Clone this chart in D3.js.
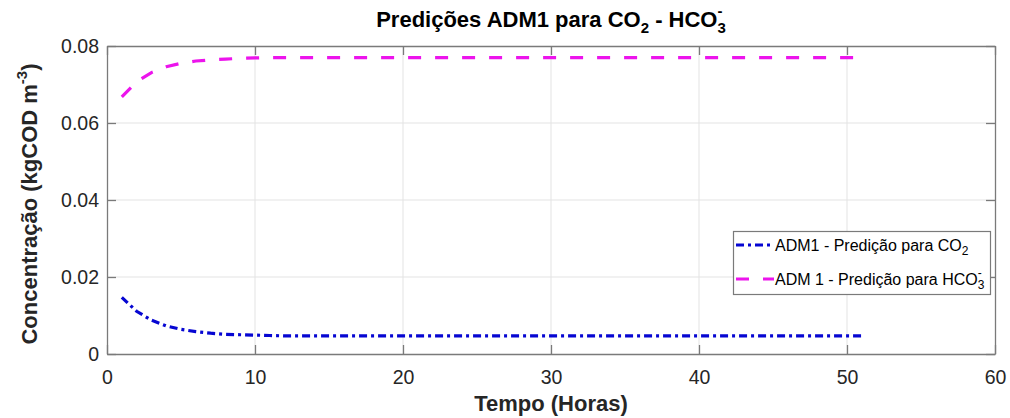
<!DOCTYPE html>
<html>
<head>
<meta charset="utf-8">
<script src="https://cdn.jsdelivr.net/npm/d3@7/dist/d3.min.js"></script>
<style>
  html, body { margin: 0; padding: 0; background: #fff; }
  svg { display: block; font-family: "Liberation Sans", Arial, sans-serif; }
</style>
</head>
<body>
<svg id="chart" width="1010" height="418"></svg>
<script>
// Simulated time (hours)
const hours = d3.range(1, 52);

// ADM1 prediction for CO2 (kgCOD m^-3)
const co2 = [
  0.0147, 0.0111, 0.0088, 0.0073, 0.0064, 0.0058, 0.0054, 0.0051, 0.0050, 0.0049,
  0.0048, 0.0047, 0.0047, 0.0047, 0.0047, 0.0047, 0.0047, 0.0047, 0.0047, 0.0047,
  0.0047, 0.0047, 0.0047, 0.0047, 0.0047, 0.0047, 0.0047, 0.0047, 0.0047, 0.0047,
  0.0047, 0.0047, 0.0047, 0.0047, 0.0047, 0.0047, 0.0047, 0.0047, 0.0047, 0.0047,
  0.0047, 0.0047, 0.0047, 0.0047, 0.0047, 0.0047, 0.0047, 0.0047, 0.0047, 0.0047,
  0.0047
];

// ADM1 prediction for HCO3- (kgCOD m^-3)
const hco3 = [
  0.0668, 0.0707, 0.0731, 0.0746, 0.0755, 0.0761, 0.0764, 0.0766, 0.0768, 0.0769,
  0.0770, 0.0770, 0.0770, 0.0770, 0.0770, 0.0770, 0.0770, 0.0770, 0.0770, 0.0770,
  0.0770, 0.0770, 0.0770, 0.0770, 0.0770, 0.0770, 0.0770, 0.0770, 0.0770, 0.0770,
  0.0770, 0.0770, 0.0770, 0.0770, 0.0770, 0.0770, 0.0770, 0.0770, 0.0770, 0.0770,
  0.0770, 0.0770, 0.0770, 0.0770, 0.0770, 0.0770, 0.0770, 0.0770, 0.0770, 0.0770,
  0.0770
];

const xTicks = [0, 10, 20, 30, 40, 50, 60];
const yTicks = [0, 0.02, 0.04, 0.06, 0.08];
const yTickLabels = ["0", "0.02", "0.04", "0.06", "0.08"];

const svg = d3.select("#chart");
const plotLeft = 107, plotRight = 995, plotTop = 46, plotBottom = 354;

const x = d3.scaleLinear().domain([0, 60]).range([plotLeft, plotRight]);
const y = d3.scaleLinear().domain([0, 0.08]).range([plotBottom, plotTop]);

const axisColor = "#7a7a7a";
const textColor = "#262626";

// grid
const grid = svg.append("g");
grid.selectAll(".gx").data(xTicks.slice(1, -1)).enter().append("line")
  .attr("x1", d => x(d)).attr("x2", d => x(d))
  .attr("y1", plotTop).attr("y2", plotBottom)
  .attr("stroke", "#e3e3e3").attr("stroke-width", 1);
grid.selectAll(".gy").data(yTicks.slice(1, -1)).enter().append("line")
  .attr("x1", plotLeft).attr("x2", plotRight)
  .attr("y1", d => y(d)).attr("y2", d => y(d))
  .attr("stroke", "#e3e3e3").attr("stroke-width", 1);

// axes (box with ticks on all sides)
const tickLen = 9;
const xAxisB = d3.axisBottom(x).tickValues(xTicks).tickSizeInner(-tickLen).tickSizeOuter(0).tickPadding(16).tickFormat(d3.format("d"));
const xAxisT = d3.axisTop(x).tickValues(xTicks).tickSizeInner(-tickLen).tickSizeOuter(0).tickFormat("");
const yAxisL = d3.axisLeft(y).tickValues(yTicks).tickSizeInner(-tickLen).tickSizeOuter(0).tickPadding(8)
  .tickFormat((d, i) => yTickLabels[i]);
const yAxisR = d3.axisRight(y).tickValues(yTicks).tickSizeInner(-tickLen).tickSizeOuter(0).tickFormat("");

function styleAxis(g) {
  g.select(".domain").attr("stroke", axisColor).attr("stroke-width", 1.3);
  g.selectAll(".tick line").attr("stroke", axisColor).attr("stroke-width", 1.3);
  g.selectAll(".tick text").attr("fill", textColor).attr("font-size", 19.5)
    .attr("font-family", "Liberation Sans, Arial, sans-serif");
}
svg.append("g").attr("transform", `translate(0,${plotBottom})`).call(xAxisB).call(styleAxis);
svg.append("g").attr("transform", `translate(0,${plotTop})`).call(xAxisT).call(styleAxis);
svg.append("g").attr("transform", `translate(${plotLeft},0)`).call(yAxisL).call(styleAxis);
svg.append("g").attr("transform", `translate(${plotRight},0)`).call(yAxisR).call(styleAxis);

// series
const line = vals => d3.line().x((d, i) => x(hours[i])).y(d => y(d))(vals);
const blue = "#0606d2", magenta = "#ec14ec";
svg.append("path").attr("d", line(co2)).attr("fill", "none")
  .attr("stroke", blue).attr("stroke-width", 3.2).attr("stroke-dasharray", "8,4,3,4");
svg.append("path").attr("d", line(hco3)).attr("fill", "none")
  .attr("stroke", magenta).attr("stroke-width", 3.2).attr("stroke-dasharray", "13,14");

// title
const title = svg.append("text").attr("x", (plotLeft + plotRight) / 2).attr("y", 27)
  .attr("text-anchor", "middle").attr("font-size", 22).attr("font-weight", "bold").attr("fill", "#000");
title.append("tspan").text("Predições ADM1 para CO");
title.append("tspan").attr("font-size", 15).attr("dy", 6).text("2");
title.append("tspan").attr("dy", -6).text(" - HCO");
title.append("tspan").attr("font-size", 15).attr("dy", 6).text("3");
title.append("tspan").attr("font-size", 15).attr("dy", -17).attr("dx", -8.3).text("-");

// axis labels
svg.append("text").attr("x", (plotLeft + plotRight) / 2).attr("y", 411)
  .attr("text-anchor", "middle").attr("font-size", 22).attr("font-weight", "bold")
  .attr("fill", textColor).text("Tempo (Horas)");

const yl = svg.append("text").attr("transform", `translate(37,${(plotTop + plotBottom) / 2 + 4}) rotate(-90)`)
  .attr("text-anchor", "middle").attr("font-size", 22).attr("font-weight", "bold").attr("fill", textColor);
yl.append("tspan").text("Concentração (kgCOD m");
yl.append("tspan").attr("font-size", 15).attr("dy", -10).text("-3");
yl.append("tspan").attr("dy", 10).text(")");

// legend
const lg = svg.append("g");
lg.append("rect").attr("x", 733.5).attr("y", 231.5).attr("width", 257).attr("height", 63)
  .attr("fill", "#fff").attr("stroke", "#7a7a7a").attr("stroke-width", 1.2);
const items = [
  { label: "ADM1 - Predição para CO", sub: "2", color: blue, dash: "8,4,3,4", cy: 245 },
  { label: "ADM 1 - Predição para HCO", sub: "3", sup: "-", color: magenta, dash: "13,14", cy: 279 }
];
items.forEach(it => {
  lg.append("line").attr("x1", 736).attr("x2", 774).attr("y1", it.cy).attr("y2", it.cy)
    .attr("stroke", it.color).attr("stroke-width", 3.2).attr("stroke-dasharray", it.dash);
  const t = lg.append("text").attr("x", 775).attr("y", it.cy + 6).attr("font-size", 16).attr("fill", "#000");
  t.append("tspan").text(it.label);
  t.append("tspan").attr("font-size", 12).attr("dy", 4).text(it.sub);
  if (it.sup) t.append("tspan").attr("font-size", 12).attr("dy", -12).attr("dx", -6.7).text(it.sup);
});
</script>
</body>
</html>
